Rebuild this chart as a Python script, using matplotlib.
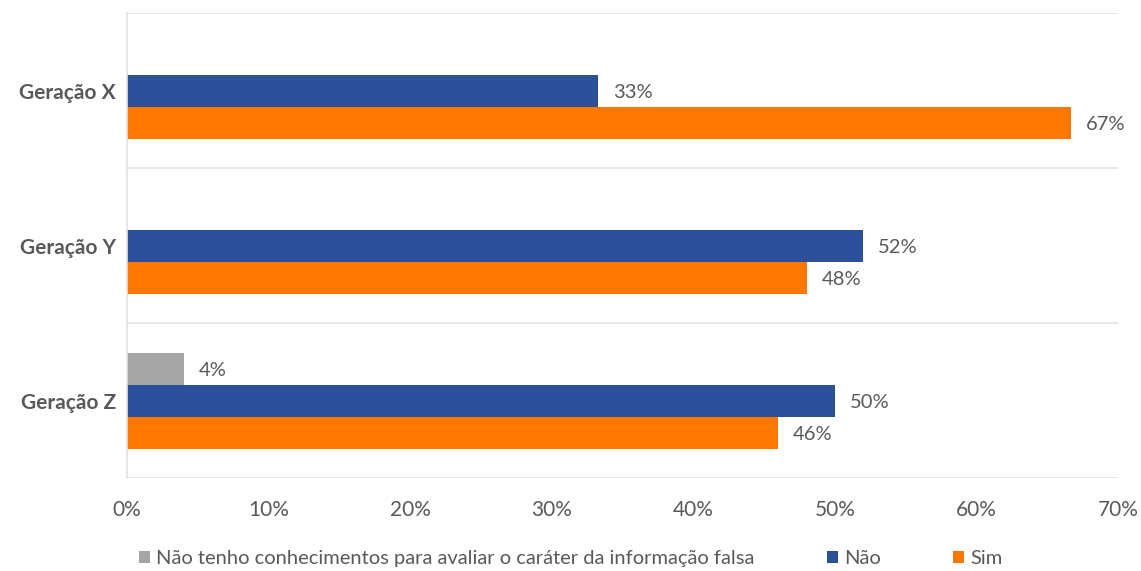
import numpy as np
import matplotlib.pyplot as plt
from matplotlib.patches import Patch

# Survey answers per generation (percent)
generations = ["Geração X", "Geração Y", "Geração Z"]
nao_tenho = [0, 0, 4]
nao = [33.3, 52, 50]
sim = [66.7, 48, 46]
series_names = ["Não tenho conhecimentos para avaliar o caráter da informação falsa",
                "Não", "Sim"]
xticks = [0, 10, 20, 30, 40, 50, 60, 70]

GREY, BLUE, ORANGE = "#A5A5A5", "#2C509A", "#FF7600"
TEXT = "#595959"

plt.rcParams["font.family"] = ["Lato", "DejaVu Sans"]

fig = plt.figure(figsize=(11.41, 5.71), dpi=100)
ax = fig.add_axes([127 / 1141, 1 - 478 / 571, (1118 - 127) / 1141, (478 - 13) / 571])

y = np.arange(len(generations))
bh = 32 / 155
series = [nao_tenho, nao, sim]
colors = [GREY, BLUE, ORANGE]
for k, (vals, col) in enumerate(zip(series, colors)):
    pos = y + (k - 1) * bh
    ax.barh(pos, vals, height=bh, color=col, zorder=2)
    for p, v in zip(pos, vals):
        if v > 0:
            ax.text(v + 1.05, p + 0.01, f"{v:.0f}%", va="center", ha="left",
                    fontsize=14.5, color=TEXT)

ax.set_ylim(len(generations) - 0.5, -0.5)
ax.set_xlim(0, 70)
ax.set_yticks(y)
ax.set_yticklabels(generations, fontsize=15, fontweight="bold", color=TEXT)
ax.set_xticks(xticks)
ax.set_xticklabels([f"{t}%" for t in xticks], fontsize=15, color=TEXT)
ax.tick_params(length=0)
ax.tick_params(axis="x", pad=16)
ax.tick_params(axis="y", pad=8)

# category separators
for b in np.arange(len(generations) + 1) - 0.5:
    ax.axhline(b, color="#E3E3E3", lw=1.2, zorder=1)
for s in ["top", "right", "bottom"]:
    ax.spines[s].set_visible(False)
ax.spines["left"].set_color("#E3E3E3")
ax.spines["left"].set_linewidth(1.2)

handles = [Patch(facecolor=c, edgecolor="none") for c in colors]
fig.legend(handles, series_names, loc="lower center", ncol=3, frameon=False,
           bbox_to_anchor=(0.5, -0.025), fontsize=14.5, labelcolor=TEXT,
           handlelength=0.55, handleheight=0.55, handletextpad=0.3, columnspacing=3.6)

fig.savefig("out.png", dpi=100)
